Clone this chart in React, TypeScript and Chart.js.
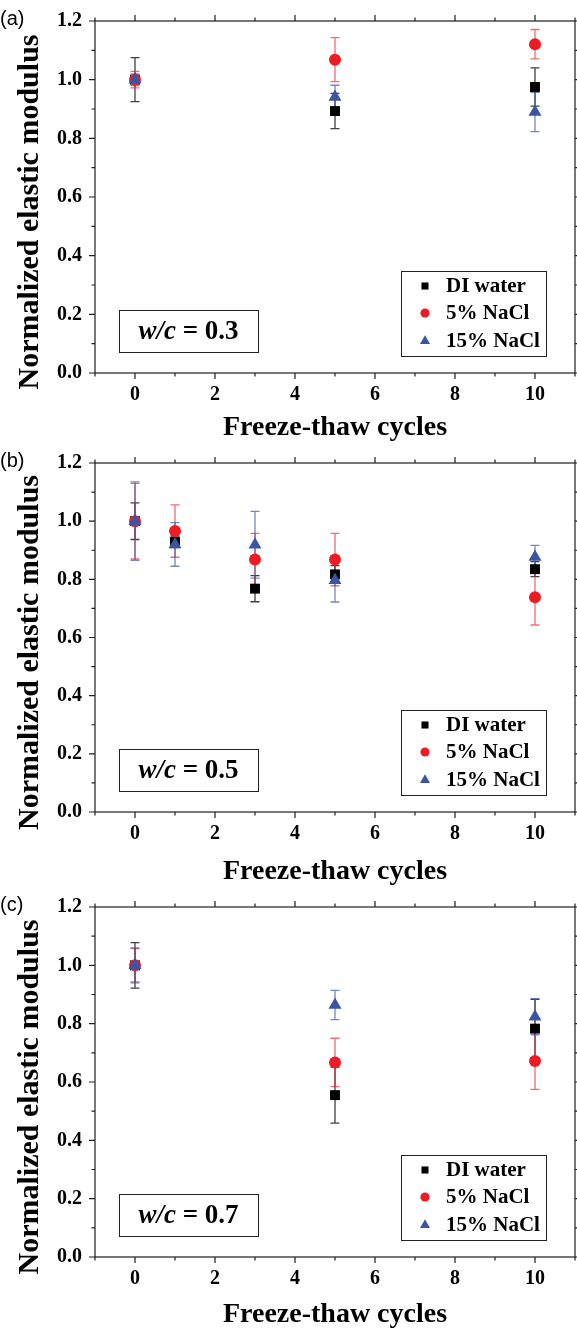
import React, { useEffect, useRef } from 'react';
import { Chart, registerables } from 'chart.js';

Chart.register(...registerables);

// ---------- data ----------
const seriesNames = ['DI water', '5% NaCl', '15% NaCl'];
const panelLabels = ['(a)', '(b)', '(c)'];
const wcValues = ['0.3', '0.5', '0.7'];
const xTitle = 'Freeze-thaw cycles';
const yTitle = 'Normalized elastic modulus';
const xTickLabels = ['0', '2', '4', '6', '8', '10'];
const yTickLabels = ['0.0', '0.2', '0.4', '0.6', '0.8', '1.0', '1.2'];

const cyclesA = [0, 5, 10];
const diA = [1.0, 0.893, 0.975];
const diErrA = [0.075, 0.06, 0.065];
const salt5A = [1.0, 1.068, 1.121];
const salt5ErrA = [0.028, 0.075, 0.05];
const salt15A = [1.0, 0.941, 0.89];
const salt15ErrA = [0.02, 0.04, 0.067];

const cyclesB = [0, 1, 3, 5, 10];
const diB = [1.0, 0.929, 0.768, 0.817, 0.835];
const diErrB = [0.063, 0.02, 0.045, 0.03, 0.026];
const salt5B = [1.0, 0.966, 0.868, 0.868, 0.738];
const salt5ErrB = [0.13, 0.09, 0.09, 0.09, 0.095];
const salt15B = [1.0, 0.92, 0.919, 0.797, 0.877];
const salt15ErrB = [0.135, 0.075, 0.115, 0.075, 0.04];

const cyclesC = [0, 5, 10];
const diC = [1.0, 0.555, 0.783];
const diErrC = [0.078, 0.096, 0.1];
const salt5C = [1.0, 0.667, 0.672];
const salt5ErrC = [0.057, 0.083, 0.097];
const salt15C = [1.0, 0.864, 0.824];
const salt15ErrC = [0.06, 0.05, 0.062];

// ---------- styles ----------
const SERIF = '"Liberation Serif", "Times New Roman", serif';
const markerColors = ['#000000', '#ED1C24', '#3B54A5'];
const errColors = ['rgba(0,0,0,0.75)', 'rgba(237,28,36,0.65)', 'rgba(59,84,165,0.7)'];
const pointStyles = ['rect', 'circle', 'triangle'];
const pointRadii = [7, 6, 7.5];

type PanelCfg = {
  idx: number;
  cycles: number[];
  values: number[][];
  errors: number[][];
  height: number;
  padTop: number;
  xAxisH: number;
  xTitlePad: number;
};

const panels: PanelCfg[] = [
  { idx: 0, cycles: cyclesA, values: [diA, salt5A, salt15A], errors: [diErrA, salt5ErrA, salt15ErrA], height: 442, padTop: 21, xAxisH: 69, xTitlePad: 0 },
  { idx: 1, cycles: cyclesB, values: [diB, salt5B, salt15B], errors: [diErrB, salt5ErrB, salt15ErrB], height: 445, padTop: 21, xAxisH: 75, xTitlePad: 1 },
  { idx: 2, cycles: cyclesC, values: [diC, salt5C, salt15C], errors: [diErrC, salt5ErrC, salt15ErrC], height: 442, padTop: 20, xAxisH: 72, xTitlePad: 0 },
];

function drawMarker(ctx: CanvasRenderingContext2D, style: string, x: number, y: number, r: number) {
  ctx.beginPath();
  if (style === 'rect') {
    const s = r * Math.SQRT1_2;
    ctx.rect(x - s, y - s, 2 * s, 2 * s);
  } else if (style === 'circle') {
    ctx.arc(x, y, r, 0, Math.PI * 2);
  } else {
    const w = r * Math.sqrt(3) / 2;
    ctx.moveTo(x, y - r);
    ctx.lineTo(x + w, y + r / 2);
    ctx.lineTo(x - w, y + r / 2);
    ctx.closePath();
  }
  ctx.fill();
}

const errorBarPlugin = {
  id: 'errorBars',
  beforeDatasetsDraw(chart: any) {
    const { ctx } = chart;
    const xs = chart.scales.x;
    const ys = chart.scales.y;
    chart.data.datasets.forEach((ds: any) => {
      ctx.save();
      ctx.strokeStyle = ds.errColor;
      ctx.lineWidth = 1.3;
      ds.data.forEach((p: any, i: number) => {
        const e = ds.errors[i];
        const x = xs.getPixelForValue(p.x);
        const y1 = ys.getPixelForValue(p.y + e);
        const y2 = ys.getPixelForValue(p.y - e);
        ctx.beginPath();
        ctx.moveTo(x, y1);
        ctx.lineTo(x, y2);
        ctx.moveTo(x - 4.5, y1);
        ctx.lineTo(x + 4.5, y1);
        ctx.moveTo(x - 4.5, y2);
        ctx.lineTo(x + 4.5, y2);
        ctx.stroke();
      });
      ctx.restore();
    });
  },
};

const decorPlugin = {
  id: 'decor',
  afterDraw(chart: any, _args: any, opts: any) {
    const { ctx, chartArea: a } = chart;
    const xs = chart.scales.x;
    const ys = chart.scales.y;
    ctx.save();
    // frame
    ctx.strokeStyle = '#1e1e1e';
    ctx.lineWidth = 1.2;
    ctx.strokeRect(a.left, a.top, a.right - a.left, a.bottom - a.top);
    ctx.beginPath();
    for (let v = -1; v <= 11; v++) {
      const x = xs.getPixelForValue(v);
      const len = v % 2 === 0 ? 6 : 3.5;
      ctx.moveTo(x, a.bottom);
      ctx.lineTo(x, a.bottom + len);
      ctx.moveTo(x, a.top);
      ctx.lineTo(x, a.top - len);
    }
    for (let k = 0; k <= 12; k++) {
      const y = ys.getPixelForValue(k / 10);
      const len = k % 2 === 0 ? 6 : 3.5;
      ctx.moveTo(a.left, y);
      ctx.lineTo(a.left - len, y);
      ctx.moveTo(a.right, y);
      ctx.lineTo(a.right + len, y);
    }
    ctx.stroke();

    // y-axis title
    ctx.fillStyle = '#000';
    ctx.save();
    ctx.translate(30, (a.top + a.bottom) / 2 + 15);
    ctx.rotate(-Math.PI / 2);
    ctx.font = `bold 30px ${SERIF}`;
    ctx.textAlign = 'center';
    ctx.textBaseline = 'middle';
    ctx.fillText(opts.yTitle, 0, 0);
    ctx.restore();

    // panel label
    ctx.font = '20px "Liberation Sans", Arial, sans-serif';
    ctx.textAlign = 'left';
    ctx.textBaseline = 'middle';
    ctx.fillText(opts.label, 0, a.top - 2);

    // legend box
    const lw = 145, lh = 85;
    const lx = a.right - 29 - lw;
    const ly = a.bottom - 17 - lh;
    ctx.strokeStyle = '#222';
    ctx.lineWidth = 1;
    ctx.strokeRect(lx + 0.5, ly + 0.5, lw, lh);
    const rows = [15, 42, 70];
    const legendRadii = [5, 4.6, 5.8];
    ctx.font = `bold 21px ${SERIF}`;
    opts.names.forEach((name: string, i: number) => {
      ctx.fillStyle = markerColors[i];
      drawMarker(ctx, pointStyles[i], lx + 24, ly + rows[i], legendRadii[i]);
      ctx.fillStyle = '#000';
      ctx.fillText(name, lx + 45, ly + rows[i] + 1);
    });

    // w/c box
    const bw = 139, bh = 42;
    const bx = a.left + 24;
    const by = a.bottom - 21 - bh;
    ctx.strokeRect(bx + 0.5, by + 0.5, bw, bh);
    const p1 = 'w/c';
    const p2 = ' = ' + opts.wc;
    ctx.font = `italic bold 27px ${SERIF}`;
    const w1 = ctx.measureText(p1).width;
    ctx.font = `bold 27px ${SERIF}`;
    const w2 = ctx.measureText(p2).width;
    const tx = bx + (bw - w1 - w2) / 2;
    const ty = by + bh / 2 + 1;
    ctx.font = `italic bold 27px ${SERIF}`;
    ctx.fillText(p1, tx, ty);
    ctx.font = `bold 27px ${SERIF}`;
    ctx.fillText(p2, tx + w1, ty);
    ctx.restore();
  },
};

function PanelChart({ cfg }: { cfg: PanelCfg }) {
  const ref = useRef<HTMLCanvasElement | null>(null);
  useEffect(() => {
    if (!ref.current) return;
    const datasets = seriesNames.map((name, s) => ({
      label: name,
      data: cfg.cycles.map((c, i) => ({ x: c, y: cfg.values[s][i] })),
      errors: cfg.errors[s],
      errColor: errColors[s],
      pointStyle: pointStyles[s],
      pointRadius: pointRadii[s],
      pointHoverRadius: pointRadii[s],
      pointBackgroundColor: markerColors[s],
      pointBorderColor: markerColors[s],
      pointBorderWidth: 0,
      showLine: false,
      order: 3 - s,
    }));
    const chart = new Chart(ref.current, {
      type: 'scatter',
      data: { datasets } as any,
      options: {
        animation: false,
        responsive: false,
        layout: { autoPadding: false, padding: { top: cfg.padTop, right: 2, left: 0, bottom: 0 } },
        plugins: {
          legend: { display: false },
          tooltip: { enabled: false },
          decor: { label: panelLabels[cfg.idx], wc: wcValues[cfg.idx], names: seriesNames, yTitle },
        } as any,
        scales: {
          x: {
            type: 'linear',
            min: -1,
            max: 11,
            grid: { display: false, drawTicks: false },
            border: { display: false },
            afterFit: (scale: any) => {
              scale.height = cfg.xAxisH;
              scale.paddingLeft = 0;
              scale.paddingRight = 0;
            },
            ticks: {
              stepSize: 1,
              autoSkip: false,
              maxRotation: 0,
              padding: 10,
              color: '#000',
              font: { family: SERIF, size: 20, weight: 'bold' },
              callback: (v: any) => {
                const idx = Number(v) / 2;
                return Number.isInteger(idx) && idx >= 0 && idx < xTickLabels.length ? xTickLabels[idx] : '';
              },
            },
            title: {
              display: true,
              text: xTitle,
              color: '#000',
              font: { family: SERIF, size: 28, weight: 'bold', lineHeight: 1 },
              padding: { top: 0, bottom: cfg.xTitlePad },
            },
          },
          y: {
            type: 'linear',
            min: 0,
            max: 1.2,
            grid: { display: false, drawTicks: false },
            border: { display: false },
            afterFit: (scale: any) => {
              scale.width = 95;
              scale.paddingTop = 0;
              scale.paddingBottom = 0;
            },
            ticks: {
              stepSize: 0.2,
              padding: 13,
              color: '#000',
              font: { family: SERIF, size: 20, weight: 'bold' },
              callback: (v: any) => {
                const idx = Math.round(Number(v) * 5);
                return yTickLabels[idx] ?? '';
              },
            },
          },
        },
      } as any,
      plugins: [errorBarPlugin, decorPlugin],
    });
    return () => chart.destroy();
  }, [cfg]);
  return <canvas ref={ref} width={577} height={cfg.height} style={{ display: 'block' }} />;
}

export default function App() {
  return (
    <div style={{ position: 'absolute', left: 0, top: 0, width: 577, background: '#fff' }}>
      {panels.map((p) => (
        <PanelChart key={p.idx} cfg={p} />
      ))}
    </div>
  );
}
